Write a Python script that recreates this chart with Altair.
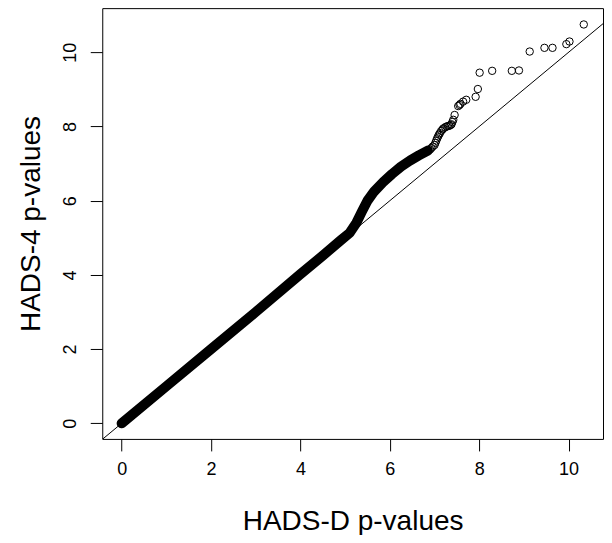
import altair as alt
import pandas as pd

# Dense part of the Q-Q cloud (reads as a solid black band)
band_x = [0.0, 1.0, 2.0, 3.0, 4.0, 4.5, 4.9, 5.1, 5.25, 5.38, 5.5, 5.65, 5.85, 6.05, 6.25,
          6.45, 6.65, 6.85]
band_y = [0.0, 1.0, 2.0, 3.0, 4.02, 4.52, 4.93, 5.13, 5.4, 5.72, 6.0, 6.25, 6.5, 6.72, 6.92,
          7.08, 7.22, 7.35]

# Individually visible points (upper tail)
pts_x = [6.9, 6.93, 6.96, 7.0, 7.02, 7.04, 7.06, 7.08, 7.1, 7.12, 7.15, 7.18, 7.2, 7.24,
         7.27, 7.3, 7.33, 7.36, 7.38, 7.4, 7.42, 7.45, 7.53, 7.56, 7.58, 7.64, 7.71, 7.92,
         7.97, 8.01, 8.29, 8.73, 8.89, 9.13, 9.46, 9.64, 9.95, 10.02, 10.34]
pts_y = [7.38, 7.42, 7.46, 7.5, 7.56, 7.62, 7.68, 7.73, 7.78, 7.82, 7.88, 7.92, 7.95, 7.98,
         8.0, 8.01, 8.02, 8.04, 8.06, 8.12, 8.18, 8.31, 8.55, 8.58, 8.61, 8.67, 8.72, 8.8,
         9.01, 9.45, 9.5, 9.5, 9.51, 10.02, 10.12, 10.12, 10.22, 10.29, 10.75]

x_ticks = [0, 2, 4, 6, 8, 10]
y_ticks = [0, 2, 4, 6, 8, 10]
x_domain = [-0.434, 10.77]
y_domain = [-0.42, 11.19]

# reference line y = a + b x  (abline(0, 1))
abline_a, abline_b = 0.0, 1.0
ab = pd.DataFrame({"x": x_domain, "y": [abline_a + abline_b * v for v in x_domain]})

FONT = "Liberation Sans"
W, H = 501, 431

xs = alt.Scale(domain=x_domain, nice=False, zero=False)
ys = alt.Scale(domain=y_domain, nice=False, zero=False)

x_axis = alt.Axis(values=x_ticks, title="HADS-D p-values", grid=False, domain=False,
                  tickSize=12, tickColor="black", tickWidth=1,
                  labelFont=FONT, labelFontSize=18, labelColor="black", labelPadding=10,
                  labelBaseline="top", labelAlign="center", labelFlush=False,
                  titleFont=FONT, titleFontSize=28, titleFontWeight="normal", titleColor="black",
                  titleX=W / 2, titleY=91, titleAlign="center", titleBaseline="alphabetic")
y_axis = alt.Axis(values=y_ticks, title="HADS-4 p-values", grid=False, domain=False,
                  tickSize=12, tickColor="black", tickWidth=1,
                  labelFont=FONT, labelFontSize=18, labelColor="black", labelPadding=11,
                  labelAngle=270, labelAlign="center", labelBaseline="bottom", labelFlush=False,
                  titleFont=FONT, titleFontSize=28, titleFontWeight="normal", titleColor="black",
                  titleAngle=270, titleX=-62.6, titleY=H / 2, titleAlign="center",
                  titleBaseline="alphabetic")

band = pd.DataFrame({"x": band_x, "y": band_y, "o": list(range(len(band_x)))})
pts = pd.DataFrame({"x": pts_x, "y": pts_y})

band_layer = alt.Chart(band).mark_line(
    color="black", strokeWidth=10, strokeCap="round", strokeJoin="round", clip=True
).encode(
    x=alt.X("x:Q", scale=xs, axis=x_axis),
    y=alt.Y("y:Q", scale=ys, axis=y_axis),
    order="o:Q",
)

pts_layer = alt.Chart(pts).mark_point(
    shape="circle", filled=False, stroke="black", strokeWidth=1, size=55, opacity=1, clip=True
).encode(x=alt.X("x:Q", scale=xs), y=alt.Y("y:Q", scale=ys))

ab_layer = alt.Chart(ab).mark_line(color="black", strokeWidth=1, clip=True).encode(
    x=alt.X("x:Q", scale=xs), y=alt.Y("y:Q", scale=ys)
)

chart = alt.layer(band_layer, pts_layer, ab_layer).properties(
    width=W, height=H,
    autosize=alt.AutoSizeParams(type="none"),
    padding={"left": 94.3, "top": 0, "right": 1, "bottom": 96},
    background="white",
).configure_view(stroke="black", strokeWidth=1)

chart.save("out.html", embed_options={"renderer": "svg", "actions": False})
